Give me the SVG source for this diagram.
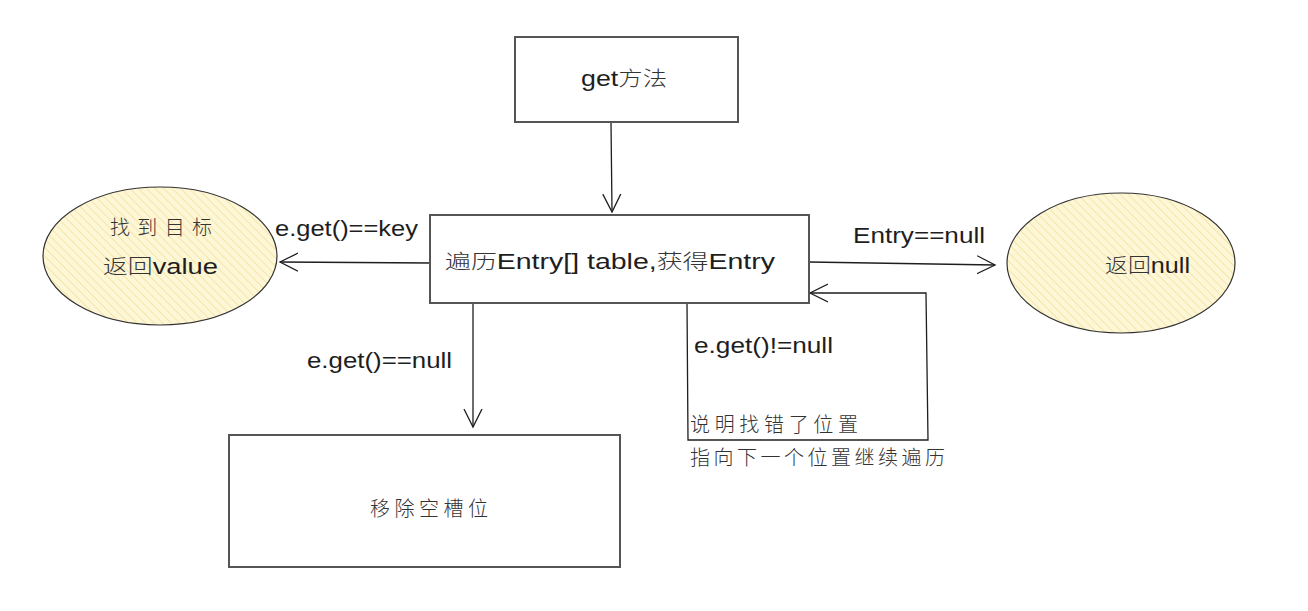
<svg xmlns="http://www.w3.org/2000/svg" width="1308" height="611" viewBox="0 0 1308 611">
<defs>
<pattern id="hatch" patternUnits="userSpaceOnUse" width="6" height="6" patternTransform="rotate(-45)">
<rect width="6" height="6" fill="#fdf7d8"/>
<line x1="0" y1="0" x2="0" y2="6" stroke="#f5e6a6" stroke-width="2"/>
</pattern>
<marker id="arr" viewBox="0 0 20 20" refX="18" refY="10" markerWidth="20" markerHeight="20" markerUnits="userSpaceOnUse" orient="auto">
<path d="M0,1 L18,10 L0,19" fill="none" stroke="#1e1e1e" stroke-width="1.3"/>
</marker>
</defs>
<style>
.box{fill:#fff;stroke:#555;stroke-width:2}
.ell{fill:url(#hatch);stroke:#333;stroke-width:1.2}
.t{font-family:"Liberation Sans","Noto Sans CJK SC",sans-serif;font-size:22px;fill:#1e1e1e}
.c{font-family:"Noto Sans CJK SC","Liberation Sans",sans-serif;font-size:20px;fill:#333;font-weight:300}
.e{stroke:#1e1e1e;stroke-width:1.3;fill:none}
</style>
<rect width="1308" height="611" fill="#fff"/>
<g id="connectors">
<path class="e" d="M611,122 L612,212" marker-end="url(#arr)"/>
<path class="e" d="M430,263 L280,262" marker-end="url(#arr)"/>
<path class="e" d="M809,262 L995,265" marker-end="url(#arr)"/>
<path class="e" d="M473,303 L473,427" marker-end="url(#arr)"/>
<path class="e" d="M687,303 L688,440 L928,440 L926,293 L810,293" marker-end="url(#arr)"/>
<text class="t" x="275" y="236" textLength="143" lengthAdjust="spacingAndGlyphs">e.get()==key</text>
<text class="t" x="853" y="243" textLength="132" lengthAdjust="spacingAndGlyphs">Entry==null</text>
<text class="t" x="307" y="368" textLength="145" lengthAdjust="spacingAndGlyphs">e.get()==null</text>
<text class="t" x="694" y="353" textLength="139" lengthAdjust="spacingAndGlyphs">e.get()!=null</text>
<text class="c" x="690" y="432" textLength="168">说明找错了位置</text>
<text class="c" x="690" y="465" textLength="255">指向下一个位置继续遍历</text>
</g>
<g id="get">
<rect class="box" x="515" y="37" width="223" height="85"/>
<text class="t" x="581" y="86" textLength="86" lengthAdjust="spacingAndGlyphs">get<tspan class="c">方法</tspan></text>
</g>
<g id="traverse">
<rect class="box" x="430" y="215" width="379" height="88"/>
<text class="t" x="445" y="269" textLength="330" lengthAdjust="spacingAndGlyphs"><tspan class="c">遍历</tspan>Entry[] table,<tspan class="c">获得</tspan>Entry</text>
</g>
<g id="found">
<ellipse class="ell" cx="160" cy="256" rx="117" ry="69"/>
<text class="c" x="110" y="235" textLength="102">找到目标</text>
<text class="t" x="103" y="274" textLength="115" lengthAdjust="spacingAndGlyphs"><tspan class="c">返回</tspan>value</text>
</g>
<g id="retnull">
<ellipse class="ell" cx="1121" cy="263" rx="114" ry="70"/>
<text class="t" x="1105" y="273" textLength="85" lengthAdjust="spacingAndGlyphs"><tspan class="c">返回</tspan>null</text>
</g>
<g id="remove">
<rect class="box" x="229" y="435" width="391" height="132"/>
<text class="c" x="370" y="516" textLength="118">移除空槽位</text>
</g>
</svg>
